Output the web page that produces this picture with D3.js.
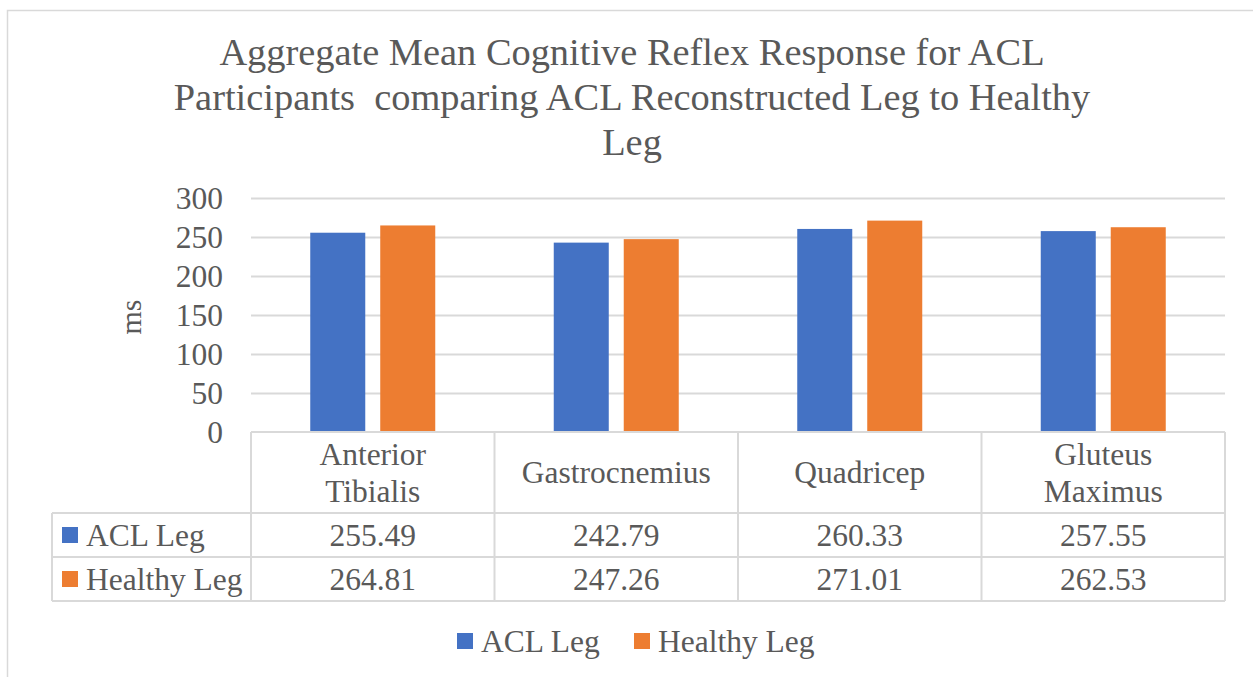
<!DOCTYPE html>
<html>
<head>
<meta charset="utf-8">
<script src="https://cdn.jsdelivr.net/npm/d3@7"></script>
<style>
  html, body { margin: 0; padding: 0; background: #fff; }
  svg { display: block; }
  text { font-family: "Liberation Serif", "Times New Roman", serif; fill: #595959; white-space: pre; }
</style>
</head>
<body>
<svg id="chart" width="1253" height="677"></svg>
<script>
const titleLines = ["Aggregate Mean Cognitive Reflex Response for ACL",
                    "Participants  comparing ACL Reconstructed Leg to Healthy",
                    "Leg"];
const categories = ["Anterior Tibialis", "Gastrocnemius", "Quadricep", "Gluteus Maximus"];
const categoryLines = [["Anterior", "Tibialis"], ["Gastrocnemius"], ["Quadricep"], ["Gluteus", "Maximus"]];
const seriesNames = ["ACL Leg", "Healthy Leg"];
const aclValues = [255.49, 242.79, 260.33, 257.55];
const healthyValues = [264.81, 247.26, 271.01, 262.53];
const seriesColors = ["#4472C4", "#ED7D31"];
const yTicks = [0, 50, 100, 150, 200, 250, 300];
const yLabel = "ms";

const seriesValues = [aclValues, healthyValues];
const svg = d3.select("#chart");
const grid = "#d9d9d9";
const fs = "31.5px";

// chart border
svg.append("rect").attr("x", 7.5).attr("y", 10.5).attr("width", 1260).attr("height", 700)
  .attr("fill", "none").attr("stroke", grid).attr("stroke-width", 1.5);

// title
svg.append("g").selectAll("text").data(titleLines).join("text")
  .attr("x", 632).attr("y", (d, i) => 65 + i * 45)
  .attr("text-anchor", "middle").attr("xml:space", "preserve").style("font-size", "38.4px")
  .text(d => d);

const plotL = 251, plotR = 1225, plotT = 198, plotB = 432;
const x = d3.scaleBand().domain(categories).range([plotL, plotR]);
const y = d3.scaleLinear().domain([0, 300]).range([plotB, plotT]);
const inner = d3.scaleBand().domain(seriesNames).range([-62.5, 62.5]).paddingInner(0.214).paddingOuter(0);

// gridlines
svg.append("g").selectAll("line").data(yTicks.filter(t => t > 0)).join("line")
  .attr("x1", plotL).attr("x2", plotR)
  .attr("y1", d => Math.round(y(d)) + 0.5).attr("y2", d => Math.round(y(d)) + 0.5)
  .attr("stroke", grid).attr("stroke-width", 2);

// y axis
const yAxis = svg.append("g").attr("transform", `translate(${plotL - 28},0)`)
  .call(d3.axisLeft(y).tickValues(yTicks).tickSize(0).tickPadding(0).tickFormat(d3.format("d")));
yAxis.select(".domain").remove();
yAxis.selectAll("text").attr("dy", null).attr("dominant-baseline", "central")
  .style("font-size", fs).style("font-family", "Liberation Serif").attr("fill", "#595959");

// y label
svg.append("text").attr("transform", "translate(130,317) rotate(-90)")
  .attr("text-anchor", "middle").attr("dominant-baseline", "central")
  .style("font-size", "30px").text(yLabel);

// bars
const barData = [];
categories.forEach((c, ci) => seriesNames.forEach((s, si) =>
  barData.push({ c, s, v: seriesValues[si][ci], color: seriesColors[si] })));
svg.append("g").selectAll("rect").data(barData).join("rect")
  .attr("x", d => x(d.c) + x.bandwidth() / 2 + inner(d.s))
  .attr("width", inner.bandwidth())
  .attr("y", d => y(d.v)).attr("height", d => y(0) - y(d.v))
  .attr("fill", d => d.color);

// data table
const tblL = 52, row1 = 513, row2 = 557, row3 = 601;
const tg = svg.append("g").attr("stroke", grid).attr("stroke-width", 2);
tg.append("line").attr("x1", plotL).attr("x2", plotR).attr("y1", plotB).attr("y2", plotB);
[row1, row2, row3].forEach(r => tg.append("line").attr("x1", tblL).attr("x2", plotR).attr("y1", r).attr("y2", r));
tg.append("line").attr("x1", tblL).attr("x2", tblL).attr("y1", row1).attr("y2", row3);
categories.forEach(c => tg.append("line").attr("x1", x(c)).attr("x2", x(c)).attr("y1", plotB).attr("y2", row3));
tg.append("line").attr("x1", plotR).attr("x2", plotR).attr("y1", plotB).attr("y2", row3);

// category labels
categories.forEach((c, ci) => {
  const lines = categoryLines[ci];
  const cy = (plotB + row1) / 2;
  lines.forEach((ln, li) => {
    svg.append("text").attr("x", x(c) + x.bandwidth() / 2)
      .attr("y", cy + (li - (lines.length - 1) / 2) * 37)
      .attr("text-anchor", "middle").attr("dominant-baseline", "central")
      .style("font-size", fs).text(ln);
  });
});

// value rows
const rowCenters = [(row1 + row2) / 2, (row2 + row3) / 2];
seriesNames.forEach((s, si) => {
  const cy = rowCenters[si];
  svg.append("rect").attr("x", 62).attr("y", cy - 8).attr("width", 16).attr("height", 16).attr("fill", seriesColors[si]);
  svg.append("text").attr("x", 86).attr("y", cy).attr("dominant-baseline", "central")
    .style("font-size", fs).text(s);
  categories.forEach((c, ci) => {
    svg.append("text").attr("x", x(c) + x.bandwidth() / 2).attr("y", cy)
      .attr("text-anchor", "middle").attr("dominant-baseline", "central")
      .style("font-size", fs).text(d3.format(".2f")(seriesValues[si][ci]));
  });
});

// legend
const legY = 641;
const lg = svg.append("g");
const legItems = [{ name: seriesNames[0], x: 457 }, { name: seriesNames[1], x: 634 }];
legItems.forEach((it, i) => {
  lg.append("rect").attr("x", it.x).attr("y", legY - 8).attr("width", 16).attr("height", 16).attr("fill", seriesColors[i]);
  lg.append("text").attr("x", it.x + 24).attr("y", legY).attr("dominant-baseline", "central")
    .style("font-size", fs).text(it.name);
});
</script>
</body>
</html>
